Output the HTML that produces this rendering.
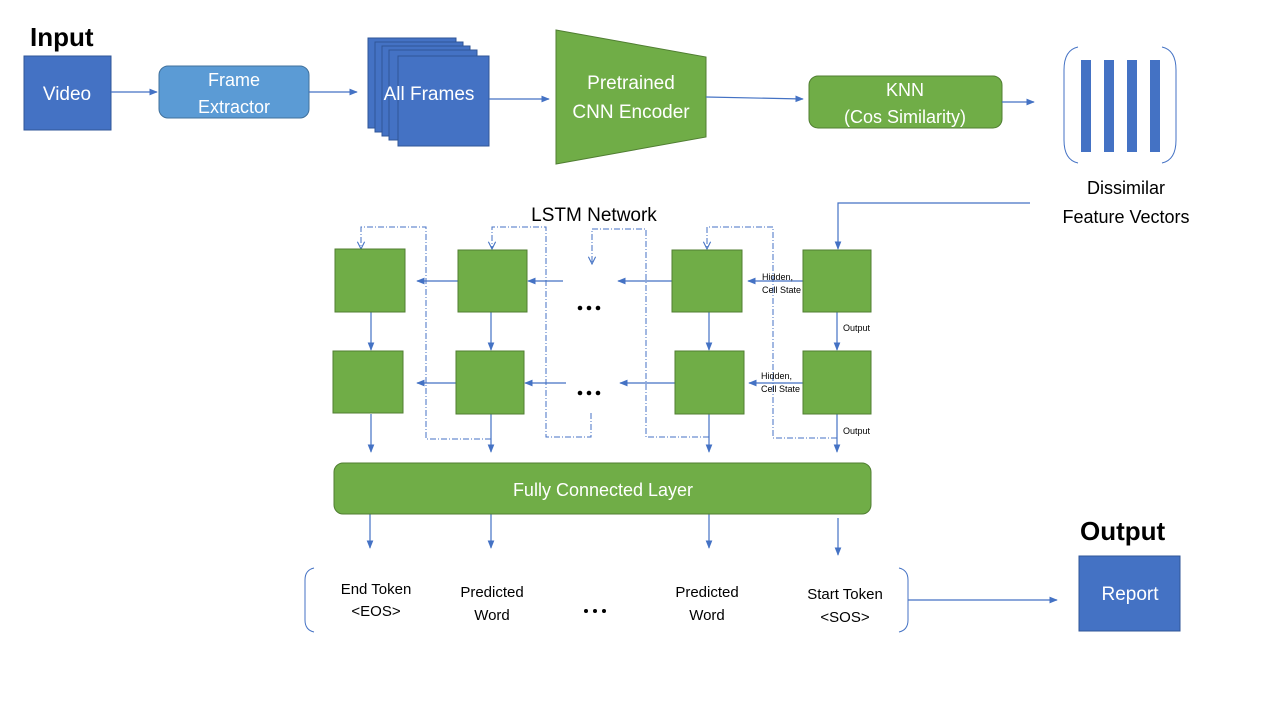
<!DOCTYPE html>
<html><head><meta charset="utf-8"><style>
html,body{margin:0;padding:0;background:#fff;width:1280px;height:720px;overflow:hidden}
svg text{font-family:"Liberation Sans",sans-serif}
</style></head><body>
<svg width="1280" height="720" viewBox="0 0 1280 720" xmlns="http://www.w3.org/2000/svg">
<defs>
<marker id="a" viewBox="0 0 10 10" refX="9" refY="5" markerWidth="7" markerHeight="7" orient="auto"><path d="M0,1 L10,5 L0,9 z" fill="#4472c4"/></marker>
<marker id="o" viewBox="0 0 10 10" refX="9" refY="5" markerWidth="9" markerHeight="9" orient="auto"><path d="M1,1 L9,5 L1,9" fill="none" stroke="#4472c4" stroke-width="1.2"/></marker>
</defs>
<g fill="#000">
<text x="30" y="46" font-size="26" font-weight="bold">Input</text>
<text x="1080" y="540" font-size="26" font-weight="bold">Output</text>
</g>
<!-- Video -->
<rect x="24" y="56" width="87" height="74" fill="#4472c4" stroke="#2f5597"/>
<text x="67" y="100" font-size="19" fill="#fff" text-anchor="middle">Video</text>
<rect x="159" y="66" width="150" height="52" rx="9" fill="#5b9bd5" stroke="#41719c"/>
<text x="234" y="86" font-size="18" fill="#fff" text-anchor="middle">Frame</text>
<text x="234" y="113" font-size="18" fill="#fff" text-anchor="middle">Extractor</text>
<g fill="#4472c4" stroke="#2f5597">
<rect x="368" y="38" width="88" height="90"/>
<rect x="375" y="42" width="88" height="90"/>
<rect x="382" y="46" width="88" height="90"/>
<rect x="389" y="50" width="88" height="90"/>
<rect x="398" y="56" width="91" height="90"/>
</g>
<text x="429" y="100" font-size="19" fill="#fff" text-anchor="middle">All Frames</text>
<polygon points="556,30 706,57 706,137 556,164" fill="#70ad47" stroke="#507e32"/>
<text x="631" y="89" font-size="19" fill="#fff" text-anchor="middle">Pretrained</text>
<text x="631" y="118" font-size="19" fill="#fff" text-anchor="middle">CNN Encoder</text>
<rect x="809" y="76" width="193" height="52" rx="9" fill="#70ad47" stroke="#507e32"/>
<text x="905" y="96" font-size="18" fill="#fff" text-anchor="middle">KNN</text>
<text x="905" y="123" font-size="18" fill="#fff" text-anchor="middle">(Cos Similarity)</text>
<path d="M1078,47 Q1064,50 1064,70 L1064,140 Q1064,160 1078,163 M1162,47 Q1176,50 1176,70 L1176,140 Q1176,160 1162,163" fill="none" stroke="#4472c4" stroke-width="1"/>
<g fill="#4472c4"><rect x="1081" y="60" width="10" height="92"/><rect x="1104" y="60" width="10" height="92"/><rect x="1127" y="60" width="10" height="92"/><rect x="1150" y="60" width="10" height="92"/></g>
<text x="1126" y="194" font-size="18" text-anchor="middle">Dissimilar</text>
<text x="1126" y="223" font-size="18" text-anchor="middle">Feature Vectors</text>
<text x="594" y="221" font-size="19" text-anchor="middle">LSTM Network</text>
<g stroke="#4472c4" stroke-width="1.2" fill="none" marker-end="url(#a)">
<line x1="111" y1="92" x2="157" y2="92"/>
<line x1="309" y1="92" x2="357" y2="92"/>
<line x1="489" y1="99" x2="549" y2="99"/>
<line x1="706" y1="97" x2="803" y2="99"/>
<line x1="1002" y1="102" x2="1034" y2="102"/>
<path d="M1030,203 L838,203 L838,249"/>
<line x1="908" y1="600" x2="1057" y2="600"/>
<!-- row1 horizontals -->
<line x1="458" y1="281" x2="417" y2="281"/>
<line x1="563" y1="281" x2="528" y2="281"/>
<line x1="672" y1="281" x2="618" y2="281"/>
<line x1="803" y1="281" x2="748" y2="281"/>
<line x1="456" y1="383" x2="417" y2="383"/>
<line x1="566" y1="383" x2="525" y2="383"/>
<line x1="675" y1="383" x2="620" y2="383"/>
<line x1="803" y1="383" x2="749" y2="383"/>
<!-- verticals -->
<line x1="371" y1="312" x2="371" y2="350"/>
<line x1="491" y1="312" x2="491" y2="350"/>
<line x1="709" y1="312" x2="709" y2="350"/>
<line x1="837" y1="312" x2="837" y2="350"/>
<line x1="371" y1="414" x2="371" y2="452"/>
<line x1="491" y1="414" x2="491" y2="452"/>
<line x1="709" y1="414" x2="709" y2="452"/>
<line x1="837" y1="414" x2="837" y2="452"/>
<line x1="370" y1="514" x2="370" y2="548"/>
<line x1="491" y1="514" x2="491" y2="548"/>
<line x1="709" y1="514" x2="709" y2="548"/>
<line x1="838" y1="518" x2="838" y2="555"/>
</g>
<g stroke="#4472c4" stroke-width="1" fill="none" stroke-dasharray="6,2,1,2" marker-end="url(#o)">
<path d="M491,439 L426,439 L426,227 L361,227 L361,249"/>
<path d="M591,413 L591,437 L546,437 L546,227 L492,227 L492,249"/>
<path d="M709,437 L646,437 L646,229 L592,229 L592,264"/>
<path d="M837,438 L773,438 L773,227 L707,227 L707,249"/>
</g>
<g fill="#70ad47" stroke="#507e32">
<rect x="335" y="249" width="70" height="63"/>
<rect x="458" y="250" width="69" height="62"/>
<rect x="672" y="250" width="70" height="62"/>
<rect x="803" y="250" width="68" height="62"/>
<rect x="333" y="351" width="70" height="62"/>
<rect x="456" y="351" width="68" height="63"/>
<rect x="675" y="351" width="69" height="63"/>
<rect x="803" y="351" width="68" height="63"/>
<rect x="334" y="463" width="537" height="51" rx="9"/>
</g>
<text x="603" y="496" font-size="18" fill="#fff" text-anchor="middle">Fully Connected Layer</text>
<g font-size="9" fill="#000">
<text x="762" y="280">Hidden,</text><text x="762" y="293">Cell State</text>
<text x="761" y="379">Hidden,</text><text x="761" y="392">Cell State</text>
<text x="843" y="331">Output</text><text x="843" y="434">Output</text>
</g>
<g fill="#000">
<circle cx="580" cy="308" r="2.3"/><circle cx="589" cy="308" r="2.3"/><circle cx="598" cy="308" r="2.3"/>
<circle cx="580" cy="393" r="2.3"/><circle cx="589" cy="393" r="2.3"/><circle cx="598" cy="393" r="2.3"/>
<circle cx="586" cy="611" r="2"/><circle cx="595" cy="611" r="2"/><circle cx="604" cy="611" r="2"/>
</g>
<path d="M314,568 Q305,570 305,580 L305,620 Q305,630 314,632 M899,568 Q908,570 908,580 L908,620 Q908,630 899,632" fill="none" stroke="#4472c4" stroke-width="1"/>
<g font-size="15" text-anchor="middle" fill="#000">
<text x="376" y="594">End Token</text><text x="376" y="616">&lt;EOS&gt;</text>
<text x="492" y="597">Predicted</text><text x="492" y="620">Word</text>
<text x="707" y="597">Predicted</text><text x="707" y="620">Word</text>
<text x="845" y="599">Start Token</text><text x="845" y="622">&lt;SOS&gt;</text>
</g>
<rect x="1079" y="556" width="101" height="75" fill="#4472c4" stroke="#2f5597"/>
<text x="1130" y="600" font-size="19" fill="#fff" text-anchor="middle">Report</text>
</svg>
</body></html>
